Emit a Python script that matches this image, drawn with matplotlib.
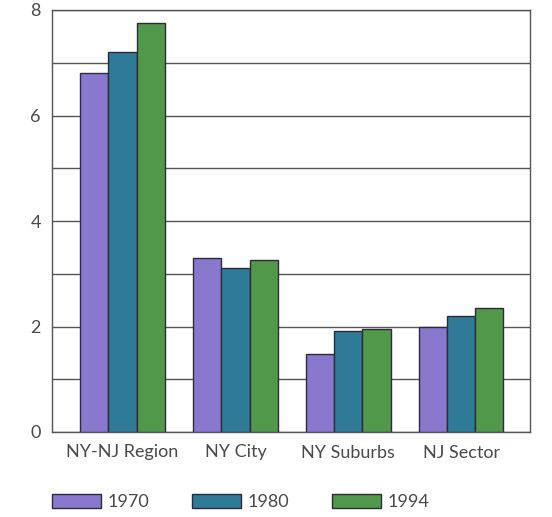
import numpy as np
import matplotlib.pyplot as plt

# values
regions = ["NY-NJ Region", "NY City", "NY Suburbs", "NJ Sector"]
years = ["1970", "1980", "1994"]
v1970 = [6.81, 3.30, 1.48, 2.00]
v1980 = [7.21, 3.10, 1.91, 2.20]
v1994 = [7.76, 3.27, 1.95, 2.36]

PURPLE, TEAL, GREEN = "#8a78cf", "#2f7a96", "#51984a"
EDGE = "#2b2b3a"
TXT = "#4a4a4a"

plt.rcParams.update({
    "font.family": ["Lato", "DejaVu Sans"],
    "font.size": 13,
    "axes.edgecolor": "#555555",
    "axes.linewidth": 1.0,
})

fig = plt.figure(figsize=(5.52, 5.17), dpi=100)
ax = fig.add_axes([52 / 552, 1 - 432 / 517, 478 / 552, 422 / 517])

x = np.arange(len(regions))
w = 0.25
for i, (vals, col, lab) in enumerate(zip([v1970, v1980, v1994],
                                         [PURPLE, TEAL, GREEN], years)):
    ax.bar(x + (i - 1) * w, vals, width=w, color=col, edgecolor=EDGE,
           linewidth=1.0, label=lab, zorder=3)

ax.set_xlim(-0.625, 3.61)
ax.set_ylim(0, 8)
ax.set_yticks([0, 2, 4, 6, 8])
ax.set_yticks(np.arange(0, 9, 1), minor=True)
ax.yaxis.grid(True, which="both", color="#555555", linewidth=1.0, zorder=0)
ax.set_axisbelow(True)
ax.set_xticks(x)
ax.set_xticklabels(regions, color=TXT, fontsize=13)
ax.tick_params(axis="both", which="both", length=0, labelcolor=TXT)
ax.tick_params(axis="x", pad=9)
ax.tick_params(axis="y", pad=8)

fig.legend(loc="center left", bbox_to_anchor=(45 / 552, 1 - 502 / 517),
           ncol=3, frameon=False, handlelength=2.7, handleheight=0.85,
           columnspacing=2.4, handletextpad=0.35, fontsize=13,
           labelcolor=TXT, borderaxespad=0)

fig.savefig("out.png", dpi=100, facecolor="white")
